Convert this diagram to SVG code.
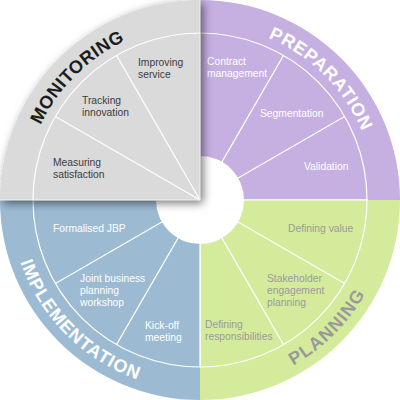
<svg xmlns="http://www.w3.org/2000/svg" width="400" height="400" viewBox="0 0 400 400">
<defs>
<style>
.lbl{font-family:"Liberation Sans","Arial",sans-serif;font-size:10.3px}
.ring{font-family:"Liberation Sans","Arial",sans-serif;font-size:18px;font-weight:bold}
.div{fill:none;stroke:#ffffff;stroke-width:1.2}
.w{fill:#ffffff}
.g{fill:#9a9a9a}
.d{fill:#3c3c3c}
</style>
<filter id="sh" x="-20%" y="-20%" width="140%" height="140%">
<feDropShadow dx="3" dy="3" stdDeviation="5" flood-color="#000000" flood-opacity="0.55"/>
</filter>
<path id="pTL" d="M24 200 A176 176 0 0 1 200 24"/>
<path id="pTR" d="M200 24 A176 176 0 0 1 376 200"/>
<path id="pBL" d="M10 200 A190 190 0 0 0 200 390"/>
<path id="pBR" d="M200 390 A190 190 0 0 0 390 200"/>
</defs>
<rect width="400" height="400" fill="#ffffff"/>

<g id="preparation">
<path d="M200 0 A200 200 0 0 1 400 200 L244 200 A44 44 0 0 0 200 156 Z" fill="#c6b0e2"/>
<path class="div" d="M200 156 L200 33 A167 167 0 0 1 367 200 L244 200"/>
<path class="div" d="M222 161.9 L283.5 55.4 M238.1 178 L344.6 116.5"/>
<text class="ring w" letter-spacing="0.7"><textPath href="#pTR" startOffset="50%" text-anchor="middle">PREPARATION</textPath></text>
<text class="lbl w" x="207" y="65">Contract<tspan x="207" dy="12.2">management</tspan></text>
<text class="lbl w" x="260" y="117">Segmentation</text>
<text class="lbl w" x="304" y="170">Validation</text>
</g>

<g id="planning">
<path d="M400 200 A200 200 0 0 1 200 400 L200 244 A44 44 0 0 0 244 200 Z" fill="#d5eb9c"/>
<path class="div" d="M244 200 L367 200 A167 167 0 0 1 200 367 L200 244"/>
<path class="div" d="M238.1 222 L344.6 283.5 M222 238.1 L283.5 344.6"/>
<text class="ring g" letter-spacing="1.2"><textPath href="#pBR" startOffset="50%" text-anchor="middle">PLANNING</textPath></text>
<text class="lbl g" x="288" y="232">Defining value</text>
<text class="lbl g" x="267" y="281.5">Stakeholder<tspan x="267" dy="12.2">engagement</tspan><tspan x="267" dy="12.2">planning</tspan></text>
<text class="lbl g" x="205" y="328">Defining<tspan x="205" dy="12.2">responsibilities</tspan></text>
</g>

<g id="implementation">
<path d="M200 400 A200 200 0 0 1 0 200 L156 200 A44 44 0 0 0 200 244 Z" fill="#9cbbd3"/>
<path class="div" d="M200 244 L200 367 A167 167 0 0 1 33 200 L156 200"/>
<path class="div" d="M178 238.1 L116.5 344.6 M161.9 222 L55.4 283.5"/>
<text class="ring w" letter-spacing="0.9"><textPath href="#pBL" startOffset="50%" text-anchor="middle">IMPLEMENTATION</textPath></text>
<text class="lbl w" x="53" y="232">Formalised JBP</text>
<text class="lbl w" x="80" y="281.5">Joint business<tspan x="80" dy="12.2">planning</tspan><tspan x="80" dy="12.2">workshop</tspan></text>
<text class="lbl w" x="145" y="328.5">Kick-off<tspan x="145" dy="12.2">meeting</tspan></text>
</g>

<g id="monitoring">
<path d="M200 200 L0 200 A200 200 0 0 1 200 0 Z" fill="#d9dad9" filter="url(#sh)"/>
<path class="div" d="M33 200 A167 167 0 0 1 200 33"/>
<path class="div" d="M200 200 L55.4 116.5 M200 200 L116.5 55.4"/>
<path d="M200 0 L200 200 L0 200" fill="none" stroke="#f2f2f2" stroke-width="1"/>
<text class="ring" fill="#1c1c1c" letter-spacing="0.5"><textPath href="#pTL" startOffset="50%" text-anchor="middle">MONITORING</textPath></text>
<text class="lbl d" x="138" y="65.5">Improving<tspan x="138" dy="12.2">service</tspan></text>
<text class="lbl d" x="82" y="103.5">Tracking<tspan x="82" dy="12.2">innovation</tspan></text>
<text class="lbl d" x="53" y="165.5">Measuring<tspan x="53" dy="12.2">satisfaction</tspan></text>
</g>
<g id="connectors"/>
</svg>
